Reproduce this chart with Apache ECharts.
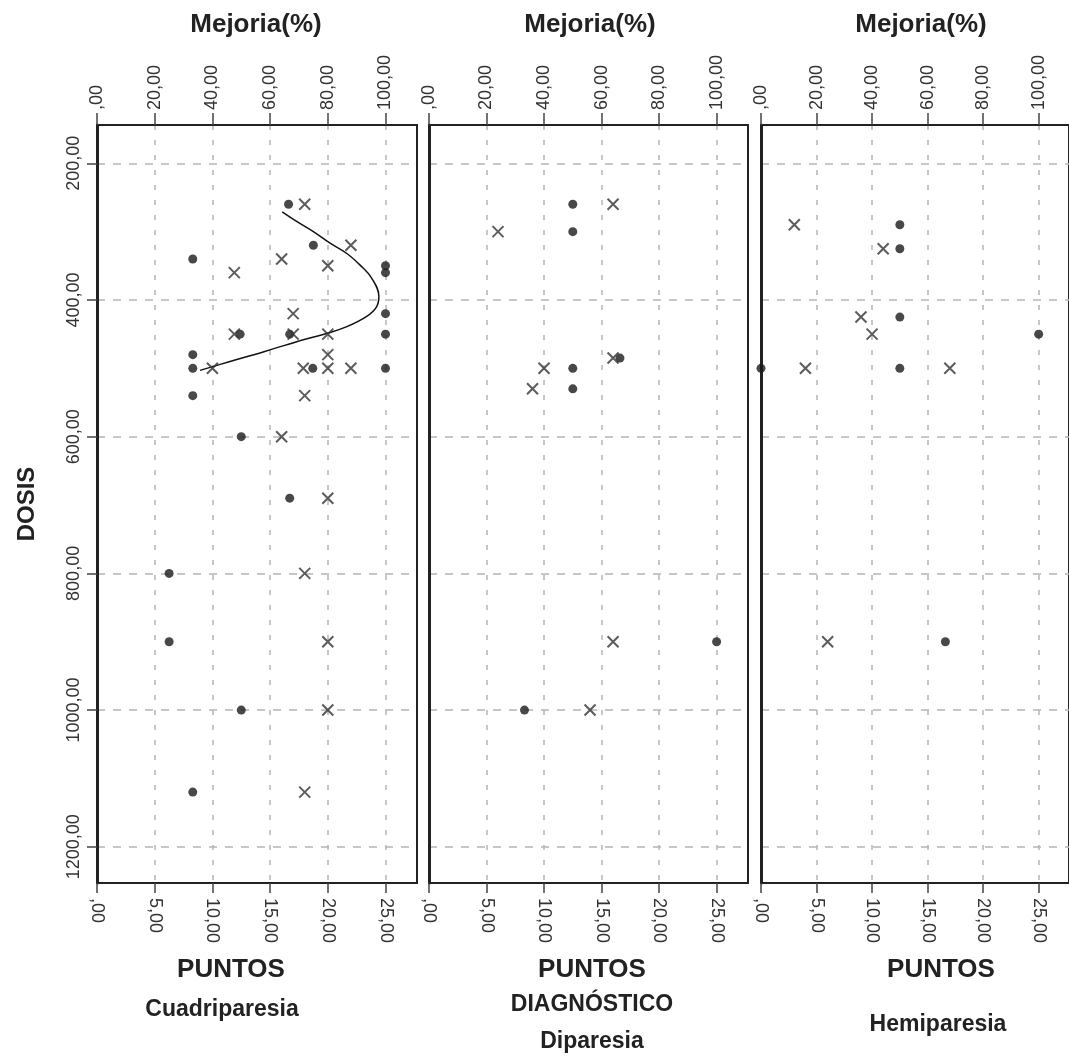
<!DOCTYPE html>
<html>
<head>
<meta charset="utf-8">
<script src="https://cdn.jsdelivr.net/npm/echarts@6/dist/echarts.min.js"></script>
<style>html,body{margin:0;padding:0;background:#fff}#c{width:1069px;height:1063px}</style>
</head>
<body>
<div id="c"></div>
<script>
// ---------- DATA ----------
const doseTicks = [200, 400, 600, 800, 1000, 1200];
const puntosTicks = [0, 5, 10, 15, 20, 25];
const mejoriaTicks = [0, 20, 40, 60, 80, 100];
const panelNames = ['Cuadriparesia', 'Diparesia', 'Hemiparesia'];

// [PUNTOS, DOSIS]  (filled dots, bottom axis)
const cuadPuntos = [[16.6,260],[18.75,320],[8.3,340],[25,350],[25,360],[25,420],[12.4,450],[16.7,450],[25,450],[8.3,480],[8.3,500],[18.7,500],[25,500],[8.3,540],[12.5,600],[16.7,690],[6.25,800],[6.25,900],[12.5,1000],[8.3,1120]];
// [Mejoria %, DOSIS]  (crosses, top axis)
const cuadMejoria = [[72,260],[88,320],[64,340],[80,350],[47.6,360],[68,420],[47.6,450],[68,450],[80,450],[80,480],[40,500],[71.5,500],[80,500],[88,500],[72,540],[64,600],[80,690],[72,800],[80,900],[80,1000],[72,1120]];
// fitted curve [Mejoria %, DOSIS]
const cuadFit = [[64.2,271],[69.2,285],[75.0,300],[80.8,317],[86.6,332],[91.2,349],[95.2,368],[97.7,395],[96.9,410],[93.5,424],[86.6,439],[79.6,449],[69.2,461],[57.6,476],[46.1,490],[35.7,503]];

const dipPuntos = [[12.5,260],[12.5,300],[16.6,485],[12.5,500],[12.5,530],[25,900],[8.3,1000]];
const dipMejoria = [[64,260],[24,300],[64,485],[40,500],[36,530],[64,900],[56,1000]];

const hemPuntos = [[12.5,290],[12.5,325],[12.5,425],[25,450],[0,500],[12.5,500],[16.6,900]];
const hemMejoria = [[12,290],[44,325],[36,425],[40,450],[16,500],[68,500],[24,900]];

// ---------- LAYOUT ----------
const FONT = '"Liberation Sans", Arial, sans-serif';
const grids = [
  {left: 97, top: 125, width: 320, height: 758},
  {left: 429, top: 125, width: 319, height: 758},
  {left: 761, top: 125, width: 320, height: 758}
];
const PMAX = 27.73, MMAX = PMAX * 4, YMIN = 144, YMAX = 1253;

function fmt(v){ return v === 0 ? ',00' : v.toFixed(2).replace('.', ','); }

const xAxes = [], yAxes = [];
grids.forEach((g, i) => {
  xAxes.push({
    type: 'value', gridIndex: i, position: 'bottom', min: 0, max: PMAX,
    axisLine: {show: true, onZero: false, lineStyle: {color: '#222', width: 2}},
    axisTick: {show: true, length: 10, customValues: puntosTicks, lineStyle: {color: '#444', width: 1.5}},
    axisLabel: {customValues: puntosTicks, rotate: -90, margin: 15, formatter: fmt,
      color: '#333', fontSize: 18, fontFamily: FONT},
    splitLine: {show: true, lineStyle: {color: '#b5b5b5', width: 1.5, type: [5, 10]}}
  });
  xAxes.push({
    type: 'value', gridIndex: i, position: 'top', min: 0, max: MMAX,
    axisLine: {show: true, onZero: false, lineStyle: {color: '#222', width: 2}},
    axisTick: {show: true, length: 12, customValues: mejoriaTicks, lineStyle: {color: '#444', width: 1.5}},
    axisLabel: {customValues: mejoriaTicks, rotate: -90, margin: 15, formatter: fmt,
      color: '#333', fontSize: 18, fontFamily: FONT},
    splitLine: {show: false}
  });
  yAxes.push({
    type: 'value', gridIndex: i, inverse: true, min: YMIN, max: YMAX,
    axisLine: {show: true, onZero: false, lineStyle: {color: '#222', width: 3}},
    axisTick: {show: i === 0, length: 10, customValues: doseTicks, lineStyle: {color: '#444', width: 1.5}},
    axisLabel: {show: i === 0, customValues: doseTicks, rotate: 90, margin: 14, formatter: fmt,
      color: '#333', fontSize: 18, fontFamily: FONT},
    splitLine: {show: true, lineStyle: {color: '#b5b5b5', width: 1.5, type: [8, 8]}}
  });
});

const dotStyle = {type: 'scatter', symbol: 'circle', symbolSize: 9, itemStyle: {color: '#1a1a1a'}, z: 3};
const crossPath = 'path://M0,0L10,10M10,0L0,10';
const crossStyle = {type: 'scatter', symbol: crossPath, symbolSize: 11,
  itemStyle: {color: 'rgba(0,0,0,0)', borderColor: '#333', borderWidth: 2}, z: 3};

const sets = [[cuadPuntos, cuadMejoria], [dipPuntos, dipMejoria], [hemPuntos, hemMejoria]];
const series = [];
sets.forEach((s, i) => {
  series.push(Object.assign({}, dotStyle, {name: panelNames[i] + ' PUNTOS', xAxisIndex: i * 2, yAxisIndex: i, data: s[0]}));
  series.push(Object.assign({}, crossStyle, {name: panelNames[i] + ' Mejoria', xAxisIndex: i * 2 + 1, yAxisIndex: i, data: s[1]}));
});
series.push({type: 'line', name: 'Ajuste', xAxisIndex: 1, yAxisIndex: 0, data: cuadFit,
  smooth: 0.4, showSymbol: false, symbol: 'none', lineStyle: {color: '#111', width: 1.5}, z: 2});

function txt(x, y, text, size, rot) {
  return {type: 'text', x: x, y: y, rotation: rot || 0,
    style: {text: text, font: 'bold ' + size + 'px ' + FONT, fill: '#222', align: 'center', verticalAlign: 'middle'}};
}

const option = {
  animation: false,
  backgroundColor: '#fff',
  grid: grids.map(g => Object.assign({show: true, borderColor: '#222', borderWidth: 2, backgroundColor: 'transparent'}, g)),
  xAxis: xAxes,
  yAxis: yAxes,
  series: series,
  graphic: [
    txt(256, 25, 'Mejoria(%)', 26), txt(590, 25, 'Mejoria(%)', 26), txt(921, 25, 'Mejoria(%)', 26),
    txt(27, 504, 'DOSIS', 24, Math.PI / 2),
    txt(231, 970, 'PUNTOS', 26), txt(592, 970, 'PUNTOS', 26), txt(941, 970, 'PUNTOS', 26),
    txt(222, 1010, 'Cuadriparesia', 23),
    txt(592, 1005, 'DIAGNÓSTICO', 23), txt(592, 1042, 'Diparesia', 23),
    txt(938, 1025, 'Hemiparesia', 23)
  ]
};

const chart = echarts.init(document.getElementById('c'), null, {renderer: 'canvas'});
chart.setOption(option);
</script>
</body>
</html>
